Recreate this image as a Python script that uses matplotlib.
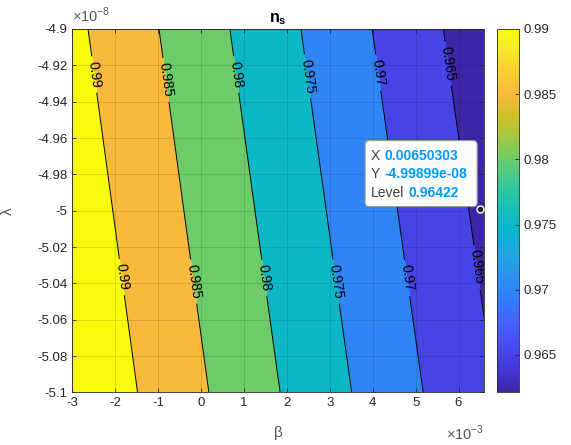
import numpy as np
import matplotlib
matplotlib.use("Agg")
import matplotlib.pyplot as plt
from matplotlib.colors import LinearSegmentedColormap, Normalize
from matplotlib.cm import ScalarMappable
from matplotlib.patches import FancyBboxPatch
from matplotlib.ticker import FuncFormatter
from matplotlib.transforms import ScaledTranslation

plt.rcParams["font.family"] = ["Liberation Sans", "DejaVu Sans"]
plt.rcParams["mathtext.fontset"] = "custom"
plt.rcParams["mathtext.rm"] = "Liberation Sans"
plt.rcParams["mathtext.bf"] = "Liberation Sans:bold"

# ---- data -------------------------------------------------------------
beta = np.array([-3.0e-3, 1.8e-3, 6.6e-3])
lam = np.array([-5.1e-8, -5.0e-8, -4.9e-8])
# spectral index n_s, one row per lambda value
ns = np.array([
    [0.99460, 0.98014, 0.96573],
    [0.99287, 0.97837, 0.96393],
    [0.99113, 0.97660, 0.96212],
])
levels = [0.965, 0.970, 0.975, 0.980, 0.985, 0.990]
# lambda at which each level carries its two inline labels
label_lam_top = [-4.919e-8, -4.924e-8, -4.926e-8, -4.925e-8, -4.928e-8, -4.925e-8]
label_lam_bot = [-5.031e-8, -5.037e-8, -5.039e-8, -5.037e-8, -5.039e-8, -5.0365e-8]

x_ticks = [-3, -2, -1, 0, 1, 2, 3, 4, 5, 6]
y_ticks = [-4.9, -4.92, -4.94, -4.96, -4.98, -5.0, -5.02, -5.04, -5.06, -5.08, -5.1]

tip_beta = 0.00650303
tip_lam = -4.99899e-08
tip_level = 0.96422

# ---- parula-like colormap ---------------------------------------------
parula_rgb = [
    (0.2422, 0.1504, 0.6603), (0.2706, 0.2147, 0.8364), (0.2813, 0.3006, 0.9414),
    (0.2699, 0.3892, 0.9906), (0.1963, 0.4847, 0.9892), (0.1687, 0.5703, 0.9359),
    (0.1248, 0.6459, 0.8883), (0.0297, 0.7082, 0.8163), (0.0964, 0.7500, 0.7120),
    (0.2161, 0.7843, 0.5923), (0.3909, 0.8029, 0.4354), (0.6174, 0.7876, 0.2612),
    (0.8203, 0.7498, 0.1535), (0.9728, 0.7298, 0.2394), (0.9892, 0.8136, 0.1885),
    (0.9656, 0.9261, 0.1356), (0.9763, 0.9831, 0.0538),
]
parula_pos = [i / 63 for i in range(0, 61, 4)] + [1.0]
parula = LinearSegmentedColormap.from_list("parula", list(zip(parula_pos, parula_rgb)))

TXT = "#262626"

fig = plt.figure(figsize=(5.71, 4.45), dpi=100)
ax = fig.add_axes([0.1261, 0.118, 0.7221, 0.8169])

# filled bands take the colour of their lower bound
norm = Normalize(vmin=ns.min(), vmax=levels[-1])
bounds = [ns.min()] + levels + [ns.max()]
band_colors = [parula(norm(b)) for b in bounds[:-1]]
ax.contourf(beta, lam, ns, levels=bounds, colors=band_colors)
cs = ax.contour(beta, lam, ns, levels=levels, colors="k", linewidths=0.7)

ax.set_xlim(beta[0], beta[-1])
ax.set_ylim(lam[0], lam[-1])

# label spots: where each level crosses its label rows
spots = []
for level, lt, lb in zip(levels, label_lam_top, label_lam_bot):
    for lv in (lt, lb):
        row = np.array([np.interp(lv, lam, ns[:, j]) for j in range(len(beta))])
        spots.append((np.interp(level, row[::-1], beta[::-1]), lv))
ax.clabel(cs, manual=spots, inline=True, inline_spacing=5, fontsize=10,
          fmt=lambda v: f"{v:g}")

ax.set_xticks([t * 1e-3 for t in x_ticks])
ax.set_yticks([t * 1e-8 for t in y_ticks])
ax.xaxis.set_major_formatter(FuncFormatter(lambda v, p: f"{round(v * 1e3, 4):g}"))
ax.yaxis.set_major_formatter(FuncFormatter(lambda v, p: f"{round(v * 1e8, 4):g}"))
ax.tick_params(direction="in", length=3, width=0.6, colors=TXT, labelsize=9.5,
               top=True, right=True)
for sp in ax.spines.values():
    sp.set_color(TXT)
    sp.set_linewidth(0.6)
ax.grid(True, color="k", alpha=0.15, linewidth=0.5)
ax.set_axisbelow(False)

ax.set_title(r"$\mathbf{n_s}$", fontsize=11.5, color="k", pad=5)
ax.set_xlabel("β", fontsize=11, color="#555555", labelpad=12)
ax.set_ylabel("λ", fontsize=11, color="#555555", labelpad=16)
ax.text(0, 1.01, r"$\times10^{-8}$", transform=ax.transAxes, ha="left", va="bottom",
        fontsize=10.5, color="#555555")
ax.text(1, -0.112, r"$\times10^{-3}$", transform=ax.transAxes, ha="right", va="center",
        fontsize=10.5, color="#555555")

# data tip
ax.plot(tip_beta, tip_lam, "o", ms=5, mfc="#222222", mec="white", mew=1.0,
        clip_on=False, zorder=6)
tip = fig.dpi_scale_trans + ScaledTranslation(tip_beta, tip_lam, ax.transData)
ax.add_patch(FancyBboxPatch((-1.15, 0.023), 1.12, 0.66,
                            boxstyle="round,pad=0,rounding_size=0.04",
                            transform=tip, facecolor="#fcfcfc", edgecolor="#9a9a9a",
                            linewidth=0.8, clip_on=False, zorder=5))
rows = [("X", f"{tip_beta:g}", 0.53), ("Y", f"{tip_lam:g}", 0.347),
        ("Level", f"{tip_level:g}", 0.163)]
for name, val, dy in rows:
    t = ax.text(-1.09, dy, name, transform=tip, ha="left", va="center",
                fontsize=10, color="#404040", zorder=7, clip_on=False)
    ax.annotate(val, xy=(1, 0.5), xycoords=t, xytext=(3, 0), textcoords="offset points",
                ha="left", va="center", fontsize=10, fontweight="bold", color="#0099ff",
                zorder=7, annotation_clip=False)

# colorbar
cax = fig.add_axes([0.8704, 0.118, 0.038, 0.8169])
cb = fig.colorbar(ScalarMappable(norm=norm, cmap=parula), cax=cax, ticks=levels)
cb.ax.yaxis.set_major_formatter(FuncFormatter(lambda v, p: f"{v:g}"))
cb.ax.tick_params(direction="in", length=3, width=0.6, colors=TXT, labelsize=9.5)
cb.outline.set_edgecolor(TXT)
cb.outline.set_linewidth(0.6)

fig.savefig("out.png", dpi=100)
